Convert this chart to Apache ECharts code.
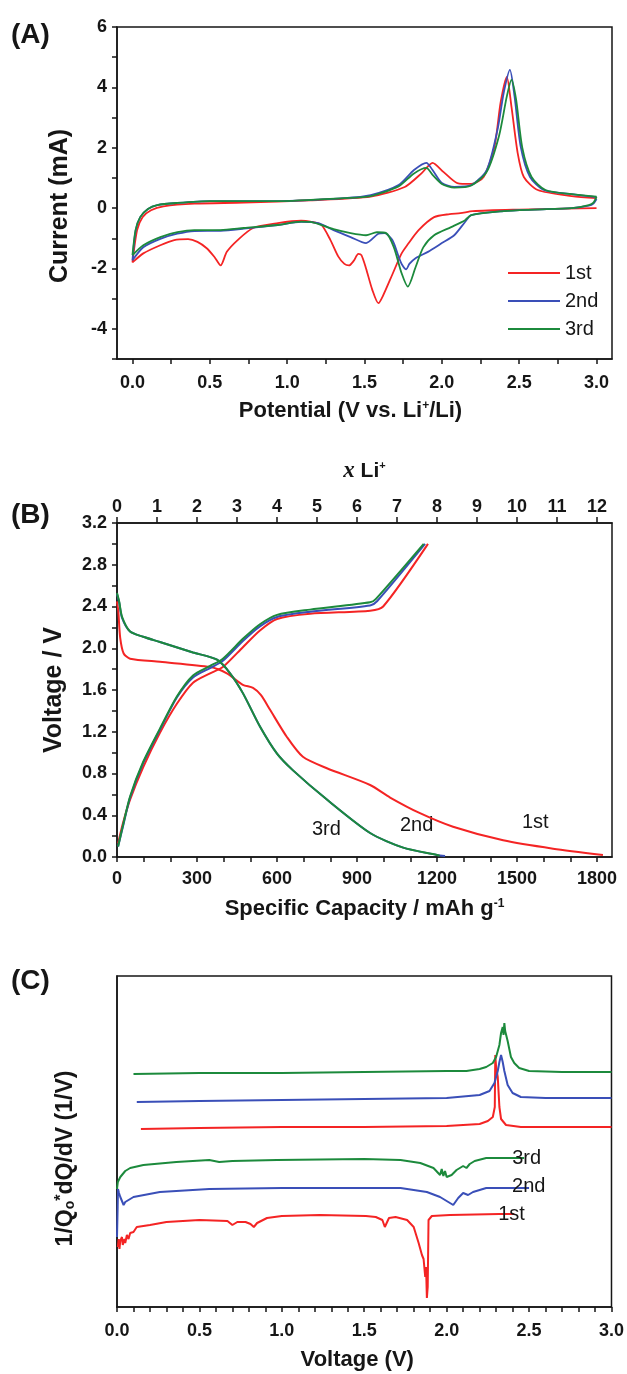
<!DOCTYPE html>
<html>
<head>
<meta charset="utf-8">
<script src="https://cdn.jsdelivr.net/npm/echarts@6/dist/echarts.min.js"></script>
<style>
  html, body { margin: 0; padding: 0; background: #fff; }
  #main { width: 627px; height: 1374px; }
</style>
</head>
<body>
<div id="main"></div>
<script>
// ---- (A) cyclic voltammetry: [potential V, current mA]
const cvFirst = [
  [3.0, 0.0], [2.8, -0.02], [2.5, -0.05], [2.2, -0.1], [2.12, -0.17], [2.05, -0.2], [1.95, -0.3],
  [1.85, -0.73], [1.78, -1.2], [1.74, -1.5], [1.68, -2.2], [1.62, -2.9], [1.59, -3.15], [1.55, -2.7],
  [1.51, -2.0], [1.48, -1.56], [1.46, -1.52], [1.43, -1.75], [1.40, -1.9], [1.37, -1.85], [1.33, -1.6],
  [1.28, -1.06], [1.22, -0.55], [1.15, -0.45], [1.09, -0.42], [0.94, -0.5], [0.78, -0.66], [0.68, -1.06],
  [0.61, -1.45], [0.57, -1.9], [0.53, -1.62], [0.48, -1.33], [0.42, -1.12], [0.36, -1.03], [0.27, -1.06],
  [0.18, -1.23], [0.07, -1.5], [0.0, -1.8],
  [0.03, -0.73], [0.065, -0.3], [0.12, -0.07], [0.2, 0.06], [0.4, 0.15], [0.72, 0.18], [1.15, 0.26],
  [1.54, 0.38], [1.76, 0.7], [1.87, 1.16], [1.94, 1.5], [2.01, 1.2], [2.1, 0.83], [2.19, 0.8],
  [2.27, 1.03], [2.34, 2.03], [2.38, 3.5], [2.42, 4.35], [2.45, 3.36], [2.49, 1.83], [2.53, 1.03],
  [2.62, 0.6], [2.84, 0.4], [3.0, 0.33]
];
const cvSecond = [
  [3.0, 0.3], [2.98, 0.15], [2.95, 0.08], [2.84, 0.0], [2.6, -0.05], [2.4, -0.1], [2.19, -0.23],
  [2.15, -0.46], [2.08, -0.9], [2.0, -1.16], [1.91, -1.45], [1.83, -1.66], [1.79, -1.85], [1.77, -2.03],
  [1.74, -1.85], [1.72, -1.6], [1.68, -1.06], [1.63, -0.83], [1.59, -0.85], [1.51, -1.16], [1.41, -0.96],
  [1.30, -0.73], [1.2, -0.5], [1.09, -0.46], [0.94, -0.56], [0.72, -0.68], [0.57, -0.75], [0.4, -0.76],
  [0.29, -0.85], [0.18, -1.02], [0.07, -1.3], [0.0, -1.73],
  [0.02, -0.75], [0.05, -0.3], [0.1, -0.03], [0.16, 0.1], [0.29, 0.17], [0.5, 0.23], [0.94, 0.23],
  [1.37, 0.33], [1.54, 0.43], [1.72, 0.76], [1.82, 1.26], [1.90, 1.5], [1.94, 1.26], [2.0, 0.83],
  [2.08, 0.7], [2.19, 0.76], [2.29, 1.26], [2.36, 2.6], [2.40, 3.82], [2.44, 4.58], [2.47, 3.7],
  [2.51, 2.03], [2.57, 1.03], [2.66, 0.6], [2.84, 0.46], [3.0, 0.36]
];
const cvThird = [
  [3.0, 0.38], [2.98, 0.18], [2.95, 0.1], [2.84, 0.0], [2.6, -0.05], [2.4, -0.1], [2.19, -0.23],
  [2.15, -0.4], [2.06, -0.63], [1.95, -0.9], [1.88, -1.3], [1.83, -1.96], [1.78, -2.6], [1.74, -2.16],
  [1.69, -1.3], [1.64, -0.83], [1.58, -0.8], [1.51, -0.9], [1.41, -0.83], [1.30, -0.7], [1.15, -0.46],
  [1.09, -0.45], [0.94, -0.56], [0.72, -0.66], [0.57, -0.73], [0.4, -0.73], [0.29, -0.8], [0.18, -0.96],
  [0.07, -1.23], [0.0, -1.56],
  [0.02, -0.73], [0.05, -0.3], [0.1, -0.03], [0.16, 0.1], [0.29, 0.17], [0.5, 0.23], [0.94, 0.23],
  [1.37, 0.33], [1.54, 0.4], [1.72, 0.72], [1.82, 1.15], [1.90, 1.33], [1.94, 1.1], [2.0, 0.8],
  [2.08, 0.68], [2.19, 0.75], [2.29, 1.2], [2.37, 2.4], [2.42, 3.7], [2.45, 4.25], [2.48, 3.6],
  [2.52, 2.0], [2.58, 1.03], [2.67, 0.6], [2.84, 0.46], [3.0, 0.38]
];

// ---- (B) charge / discharge: [capacity mAh/g, voltage V]
const gcFirstDis = [
  [0, 2.45], [5, 2.35], [12, 2.1], [25, 1.95], [49, 1.9], [161, 1.87], [349, 1.82], [412, 1.76],
  [472, 1.65], [510, 1.62], [540, 1.55], [574, 1.41], [637, 1.15], [697, 0.96], [787, 0.85],
  [949, 0.69], [1024, 0.57], [1136, 0.42], [1260, 0.29], [1448, 0.16], [1635, 0.08], [1822, 0.02]
];
const gcFirstChg = [
  [4, 0.13], [23, 0.33], [49, 0.55], [98, 0.86], [161, 1.19], [225, 1.47], [285, 1.67], [349, 1.76],
  [397, 1.82], [472, 2.01], [536, 2.17], [600, 2.28], [724, 2.33], [949, 2.36], [998, 2.4], [1166, 3.0]
];
const gcSecondDis = [
  [0, 2.52], [8, 2.44], [19, 2.29], [49, 2.16], [98, 2.11], [161, 2.06], [285, 1.96], [375, 1.89],
  [424, 1.76], [472, 1.57], [536, 1.25], [600, 0.99], [660, 0.83], [787, 0.55], [949, 0.23],
  [1073, 0.09], [1200, 0.02], [1230, 0.01]
];
const gcSecondChg = [
  [4, 0.1], [23, 0.3], [49, 0.57], [98, 0.9], [161, 1.22], [225, 1.53], [285, 1.72], [349, 1.81],
  [397, 1.88], [472, 2.07], [536, 2.21], [600, 2.3], [724, 2.35], [949, 2.41], [975, 2.45], [1155, 3.0]
];
const gcThirdDis = [
  [0, 2.53], [8, 2.45], [19, 2.3], [49, 2.16], [98, 2.11], [161, 2.06], [285, 1.96], [375, 1.89],
  [424, 1.76], [472, 1.57], [536, 1.25], [600, 0.99], [660, 0.83], [787, 0.55], [949, 0.23],
  [1073, 0.09], [1200, 0.02], [1210, 0.01]
];
const gcThirdChg = [
  [4, 0.1], [23, 0.31], [49, 0.58], [98, 0.91], [161, 1.23], [225, 1.54], [285, 1.74], [349, 1.83],
  [397, 1.9], [472, 2.09], [536, 2.23], [600, 2.32], [724, 2.37], [949, 2.44], [970, 2.47], [1150, 3.0]
];

// ---- (C) differential capacity (arbitrary units): [voltage V, dQ/dV]
const dqFirstChg = [
  [0.145, 178], [0.5, 179], [1.0, 180], [1.5, 180], [2.0, 181], [2.2, 183], [2.25, 186], [2.28, 190],
  [2.292, 200], [2.295, 252], [2.30, 240], [2.31, 230], [2.315, 215], [2.32, 200], [2.33, 188],
  [2.36, 182], [2.45, 180], [3.0, 180]
];
const dqSecondChg = [
  [0.12, 205], [0.5, 206], [1.0, 207], [1.5, 208], [2.0, 209], [2.2, 212], [2.26, 216], [2.29, 224],
  [2.31, 236], [2.32, 245], [2.33, 252], [2.34, 245], [2.35, 236], [2.37, 222], [2.40, 214],
  [2.45, 210], [2.6, 209], [3.0, 209]
];
const dqThirdChg = [
  [0.10, 233], [0.5, 234], [1.0, 234], [1.5, 235], [2.0, 236], [2.12, 236], [2.2, 238], [2.24, 240],
  [2.28, 244], [2.30, 250], [2.32, 262], [2.33, 274], [2.34, 280], [2.345, 272], [2.35, 284],
  [2.355, 276], [2.36, 278], [2.37, 266], [2.38, 258], [2.39, 250], [2.41, 244], [2.44, 239],
  [2.5, 236], [2.7, 235], [3.0, 235]
];
const dqFirstDis = [
  [0.005, 60], [0.01, 68], [0.015, 58], [0.02, 66], [0.03, 70], [0.035, 62], [0.045, 68], [0.05, 64],
  [0.06, 72], [0.07, 68], [0.08, 74], [0.1, 75], [0.12, 80], [0.2, 82], [0.3, 85], [0.5, 87],
  [0.67, 86], [0.70, 82], [0.73, 85], [0.78, 85], [0.81, 83], [0.83, 80], [0.85, 84], [0.91, 89],
  [1.0, 91], [1.23, 92], [1.51, 91], [1.57, 90], [1.61, 87], [1.625, 80], [1.635, 82], [1.65, 89],
  [1.69, 90], [1.76, 87], [1.80, 80], [1.83, 64], [1.85, 52], [1.86, 48], [1.87, 30], [1.875, 40],
  [1.88, 9], [1.885, 20], [1.89, 87], [1.91, 91], [2.02, 92], [2.32, 93], [2.41, 93]
];
const dqSecondDis = [
  [0.0, 70], [0.004, 100], [0.006, 118], [0.012, 114], [0.02, 110], [0.04, 102], [0.05, 105],
  [0.06, 103], [0.08, 108], [0.1, 110], [0.26, 115], [0.56, 118], [1.0, 119], [1.72, 119],
  [1.88, 115], [1.96, 110], [2.01, 105], [2.04, 102], [2.07, 109], [2.10, 114], [2.13, 112],
  [2.16, 115], [2.24, 119], [2.5, 119]
];
const dqThirdDis = [
  [0.0, 118], [0.005, 125], [0.02, 130], [0.05, 136], [0.08, 139], [0.16, 142], [0.36, 145],
  [0.56, 147], [0.62, 145], [0.7, 146], [0.97, 147], [1.5, 148], [1.72, 147], [1.84, 144],
  [1.92, 139], [1.96, 132], [1.97, 138], [1.98, 131], [1.99, 136], [2.0, 130], [2.03, 132],
  [2.06, 137], [2.08, 139], [2.10, 141], [2.12, 139], [2.14, 143], [2.17, 146], [2.24, 149],
  [2.3, 149], [2.47, 149]
];

// ---- ticks and labels
const cycleNames = ["1st", "2nd", "3rd"];
const aXTicks = [0, 0.25, 0.5, 0.75, 1.0, 1.25, 1.5, 1.75, 2.0, 2.25, 2.5, 2.75, 3.0];
const aXLabels = [0, 0.5, 1.0, 1.5, 2.0, 2.5, 3.0];
const aYTicks = [-5, -4, -3, -2, -1, 0, 1, 2, 3, 4, 5, 6];
const aYLabels = [-4, -2, 0, 2, 4, 6];
const bXTicks = [0, 100, 200, 300, 400, 500, 600, 700, 800, 900, 1000, 1100, 1200, 1300, 1400, 1500, 1600, 1700, 1800];
const bXLabels = [0, 300, 600, 900, 1200, 1500, 1800];
const bLiTicks = [0, 1, 2, 3, 4, 5, 6, 7, 8, 9, 10, 11, 12];
const bYTicks = [0, 0.2, 0.4, 0.6, 0.8, 1.0, 1.2, 1.4, 1.6, 1.8, 2.0, 2.2, 2.4, 2.6, 2.8, 3.0, 3.2];
const bYLabels = [0, 0.4, 0.8, 1.2, 1.6, 2.0, 2.4, 2.8, 3.2];
const cXTicks = [0, 0.1, 0.2, 0.3, 0.4, 0.5, 0.6, 0.7, 0.8, 0.9, 1.0, 1.1, 1.2, 1.3, 1.4, 1.5, 1.6, 1.7, 1.8, 1.9, 2.0, 2.1, 2.2, 2.3, 2.4, 2.5, 2.6, 2.7, 2.8, 2.9, 3.0];
const cXLabels = [0, 0.5, 1.0, 1.5, 2.0, 2.5, 3.0];
const capMax = 1856;          // mAh/g at right edge
const capPerLi = 150;         // mAh/g per Li+

const colors = ["#f42424", "#3a4fb8", "#1c8a3c"];
const font = "Liberation Sans";
const ink = "#161616";

function ticks(vals, len) {
  return { show: true, length: len || 5, customValues: vals, lineStyle: { color: ink, width: 1.5 } };
}
function labels(vals, margin, fmt) {
  return { color: ink, fontFamily: font, fontWeight: "bold", fontSize: 18, margin: margin,
    customValues: vals, formatter: fmt };
}
function titleStyle(size, padding, rich) {
  return { color: ink, fontFamily: font, fontWeight: "bold", fontSize: size, padding: padding || 0, rich: rich };
}
const supStyle = { fontFamily: font, fontWeight: "bold", fontSize: 12, verticalAlign: "top", color: ink };

function valueAxis(extra) {
  return Object.assign({
    type: "value",
    splitLine: { show: false },
    axisLine: { show: true, onZero: false, lineStyle: { color: ink, width: 1.5 } },
    nameLocation: "middle"
  }, extra);
}

function line(name, data, color, xi, yi, extra) {
  return Object.assign({
    name: name, type: "line", data: data, xAxisIndex: xi, yAxisIndex: yi,
    symbol: "none", smooth: 0.25, lineStyle: { color: color, width: 2 },
    itemStyle: { color: color }, z: 3
  }, extra);
}

let chart = echarts.init(document.getElementById("main"))
const gridBox = { show: true, borderColor: ink, borderWidth: 1.5, backgroundColor: "transparent" };

chart.setOption({
  animation: false,
  backgroundColor: "#fff",
  grid: [
    Object.assign({ left: 117, right: 15, top: 27, height: 332 }, gridBox),
    Object.assign({ left: 117, right: 15, top: 523, height: 334 }, gridBox),
    Object.assign({ left: 117, right: 15, top: 976, height: 331 }, gridBox)
  ],
  xAxis: [
    valueAxis({
      gridIndex: 0, min: -0.1, max: 3.1,
      axisTick: ticks(aXTicks),
      axisLabel: labels(aXLabels, 15, v => v.toFixed(1)),
      name: "Potential (V vs. Li{sup|+}/Li)", nameGap: 41,
      nameTextStyle: titleStyle(22, [0, 28, 0, 0], { sup: supStyle })
    }),
    valueAxis({
      gridIndex: 1, min: 0, max: capMax,
      axisTick: ticks(bXTicks),
      axisLabel: labels(bXLabels, 13, v => String(v)),
      name: "Specific Capacity / mAh g{sup|-1}", nameGap: 41,
      nameTextStyle: titleStyle(22, 0, { sup: supStyle })
    }),
    valueAxis({
      gridIndex: 1, position: "top", min: 0, max: capMax / capPerLi,
      axisTick: ticks(bLiTicks, 6),
      axisLabel: labels(bLiTicks, 7, v => String(v)),
      name: "{it|x} Li{sup|+}", nameGap: 40,
      nameTextStyle: titleStyle(21, 0, {
        it: { fontFamily: "Liberation Serif", fontStyle: "italic", fontWeight: "bold", fontSize: 23, color: ink },
        sup: { fontFamily: font, fontWeight: "bold", fontSize: 11, verticalAlign: "top", color: ink }
      })
    }),
    valueAxis({
      gridIndex: 2, min: 0, max: 3,
      axisTick: ticks(cXTicks),
      axisLabel: labels(cXLabels, 15, v => v.toFixed(1)),
      name: "Voltage (V)", nameGap: 42,
      nameTextStyle: titleStyle(22, [0, 14, 0, 0])
    })
  ],
  yAxis: [
    valueAxis({
      gridIndex: 0, min: -5, max: 6,
      axisTick: ticks(aYTicks),
      axisLabel: labels(aYLabels, 10, v => String(v)),
      name: "Current (mA)", nameGap: 44,
      nameTextStyle: titleStyle(25, [0, 26, 0, 0])
    }),
    valueAxis({
      gridIndex: 1, min: 0, max: 3.2,
      axisTick: ticks(bYTicks),
      axisLabel: labels(bYLabels, 10, v => v.toFixed(1)),
      name: "Voltage / V", nameGap: 50,
      nameTextStyle: titleStyle(25)
    }),
    valueAxis({
      gridIndex: 2, min: 0, max: 331,
      axisTick: { show: false }, axisLabel: { show: false },
      name: "1/Q{sub|o}{sup|*}dQ/dV (1/V)", nameGap: 40,
      nameTextStyle: titleStyle(23, [0, 34, 0, 0], {
        sub: { fontFamily: font, fontWeight: "bold", fontSize: 14, verticalAlign: "bottom", color: ink },
        sup: { fontFamily: font, fontWeight: "bold", fontSize: 16, verticalAlign: "top", color: ink }
      })
    })
  ],
  legend: {
    left: 503, top: 258, orient: "vertical", icon: "rect",
    itemWidth: 52, itemHeight: 2, itemGap: 8,
    textStyle: { color: ink, fontFamily: font, fontSize: 20, lineHeight: 20 },
    data: cycleNames
  },
  graphic: [
    { type: "text", left: 11, top: 21, style: { text: "(A)", font: "bold 28px Liberation Sans", fill: ink } },
    { type: "text", left: 11, top: 501, style: { text: "(B)", font: "bold 28px Liberation Sans", fill: ink } },
    { type: "text", left: 11, top: 967, style: { text: "(C)", font: "bold 28px Liberation Sans", fill: ink } },
    { type: "text", left: 312, top: 819, style: { text: "3rd", font: "20px Liberation Sans", fill: ink } },
    { type: "text", left: 400, top: 815, style: { text: "2nd", font: "20px Liberation Sans", fill: ink } },
    { type: "text", left: 522, top: 812, style: { text: "1st", font: "20px Liberation Sans", fill: ink } }
  ],
  series: [
    line(cycleNames[0], cvFirst, colors[0], 0, 0, { lineStyle: { color: colors[0], width: 1.8 } }),
    line(cycleNames[1], cvSecond, colors[1], 0, 0, { lineStyle: { color: colors[1], width: 1.8 } }),
    line(cycleNames[2], cvThird, colors[2], 0, 0, { lineStyle: { color: colors[2], width: 1.8 } }),

    line("1st dis", gcFirstDis, colors[0], 1, 1),
    line("1st chg", gcFirstChg, colors[0], 1, 1),
    line("2nd dis", gcSecondDis, colors[1], 1, 1),
    line("2nd chg", gcSecondChg, colors[1], 1, 1),
    line("3rd dis", gcThirdDis, colors[2], 1, 1),
    line("3rd chg", gcThirdChg, colors[2], 1, 1),

    line("1st c", dqFirstChg, colors[0], 3, 2, { smooth: false }),
    line("2nd c", dqSecondChg, colors[1], 3, 2, { smooth: false }),
    line("3rd c", dqThirdChg, colors[2], 3, 2, { smooth: false }),
    line("1st d", dqFirstDis, colors[0], 3, 2, { smooth: false,
      endLabel: { show: true, formatter: "1st", offset: [-24, 0], color: ink, fontFamily: font, fontSize: 20 } }),
    line("2nd d", dqSecondDis, colors[1], 3, 2, { smooth: false,
      endLabel: { show: true, formatter: "2nd", offset: [-25, -2], color: ink, fontFamily: font, fontSize: 20 } }),
    line("3rd d", dqThirdDis, colors[2], 3, 2, { smooth: false,
      endLabel: { show: true, formatter: "3rd", offset: [-20, 0], color: ink, fontFamily: font, fontSize: 20 } })
  ]
})
</script>
</body>
</html>
